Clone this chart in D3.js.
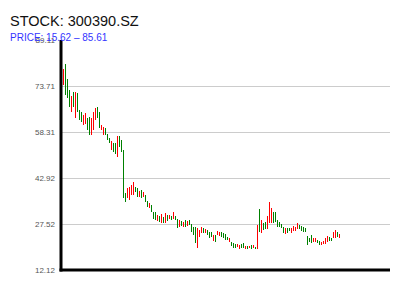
<!DOCTYPE html>
<html>
<head>
<meta charset="utf-8">
<script src="https://cdn.jsdelivr.net/npm/d3@7"></script>
<style>
  html, body { margin: 0; padding: 0; background: #fff; }
  svg { display: block; font-family: "Liberation Sans", Arial, sans-serif; }
</style>
</head>
<body>
<svg id="chart" width="400" height="300"></svg>
<script>
// daily open / close (red = up, green = down)
const opens = [
  74.06, 81.09, 76.07, 72.38, 65.02, 71.71, 63.01, 71.38, 65.69, 65.02,
  60.67, 61.00, 63.01, 63.34, 57.32, 58.99, 62.34, 66.69, 65.02, 58.99,
  57.32, 59.66, 57.65, 56.31, 52.30, 54.64, 54.64, 49.95, 56.98, 55.64,
  52.30, 37.90, 36.23, 35.56, 37.23, 37.23, 39.91, 39.57, 36.56, 38.90,
  36.56, 37.23, 35.22, 32.88, 33.88, 31.54, 31.54, 28.53, 30.20, 27.86,
  29.86, 27.86, 30.53, 29.19, 30.20, 29.19, 30.20, 29.19, 26.52, 28.53,
  26.52, 28.86, 26.85, 28.86, 27.52, 26.52, 26.52, 19.49, 23.17, 24.51,
  26.18, 24.51, 25.51, 24.84, 24.84, 21.83, 23.84, 23.84, 23.50, 24.84,
  24.51, 24.17, 23.17, 21.49, 21.49, 21.16, 20.82, 19.82, 19.15, 20.82,
  21.16, 19.15, 20.16, 19.49, 20.49, 19.49, 19.82, 19.15, 32.54, 24.51,
  27.86, 28.19, 25.85, 27.86, 27.86, 31.54, 31.54, 28.86, 28.19, 27.52,
  26.52, 24.17, 26.18, 26.18, 24.51, 25.18, 25.18, 25.85, 27.19, 26.85,
  26.52, 26.18, 23.50, 22.83, 23.84, 21.49, 21.49, 22.16, 21.83, 20.49,
  20.82, 20.82, 21.49, 23.17, 22.83, 22.83, 22.83, 24.84, 22.83
];
const closes = [
  79.41, 70.71, 69.71, 66.69, 70.38, 66.69, 71.71, 65.02, 62.34, 61.67,
  64.01, 64.68, 58.99, 57.32, 63.01, 65.02, 66.36, 63.01, 59.66, 60.67,
  60.00, 57.32, 55.64, 54.64, 55.31, 51.63, 50.96, 56.98, 53.30, 51.63,
  36.23, 34.89, 39.57, 39.91, 40.58, 41.58, 38.23, 36.56, 38.57, 36.23,
  38.23, 34.89, 33.21, 34.55, 31.54, 29.19, 28.86, 30.53, 28.19, 30.87,
  27.86, 31.20, 28.53, 30.53, 28.86, 31.54, 28.86, 26.18, 28.86, 26.85,
  28.19, 26.52, 28.53, 27.19, 24.84, 23.84, 21.16, 26.18, 25.51, 26.52,
  24.51, 25.85, 23.84, 22.83, 23.17, 23.84, 21.49, 25.18, 24.84, 23.17,
  22.83, 22.16, 22.16, 22.83, 20.16, 19.49, 19.49, 20.82, 20.49, 19.49,
  19.49, 20.16, 19.15, 20.16, 19.15, 20.49, 19.15, 27.19, 24.84, 28.86,
  25.51, 25.85, 30.20, 34.89, 32.88, 27.86, 28.19, 26.52, 26.52, 26.18,
  24.51, 26.18, 24.51, 25.18, 26.18, 26.85, 26.52, 27.86, 25.85, 25.18,
  24.84, 24.84, 20.49, 21.49, 21.16, 22.83, 22.83, 21.16, 20.49, 21.49,
  21.83, 22.83, 23.50, 21.83, 21.83, 24.84, 25.51, 23.17, 24.17
];
const yTicks = [12.12, 27.52, 42.92, 58.31, 73.71, 89.11];
const title = "STOCK: 300390.SZ";
const subtitle = "PRICE: 15.62 \u2013 85.61";

const plotLeft = 61, plotRight = 390, plotTop = 40, plotBottom = 270;

const svg = d3.select("#chart");

// 2px per trading day, 1px wide bars
const x = d3.scaleBand()
  .domain(d3.range(opens.length))
  .range([62.5, 62.5 + opens.length * 2])
  .paddingInner(0.5)
  .paddingOuter(0.25);

const y = d3.scaleLinear()
  .domain([yTicks[0], yTicks[yTicks.length - 1]])
  .range([plotBottom, plotTop]);

// grid lines
svg.append("g")
  .selectAll("line")
  .data(yTicks.slice(1, -1))
  .enter().append("line")
    .attr("x1", plotLeft)
    .attr("x2", plotRight)
    .attr("y1", d => Math.round(y(d)) + 0.5)
    .attr("y2", d => Math.round(y(d)) + 0.5)
    .style("stroke", "#cccccc")
    .style("stroke-width", 1);

// y axis labels
const yAxis = d3.axisLeft(y)
  .tickValues(yTicks)
  .tickSize(0)
  .tickPadding(5)
  .tickFormat(d3.format(".2f"));

const ag = svg.append("g")
  .attr("transform", `translate(${plotLeft - 1},0)`)
  .call(yAxis);
ag.select(".domain").remove();
ag.selectAll("text")
  .style("font-family", "'Liberation Sans', Arial, sans-serif")
  .style("font-size", "8px")
  .style("fill", "#555");

// candles
svg.append("g")
  .attr("shape-rendering", "crispEdges")
  .selectAll("rect")
  .data(opens.map((o, i) => ({ i: i, o: o, c: closes[i] })))
  .enter().append("rect")
    .attr("x", d => x(d.i))
    .attr("width", x.bandwidth())
    .attr("y", d => y(Math.max(d.o, d.c)))
    .attr("height", d => Math.max(1, Math.abs(y(d.o) - y(d.c))))
    .style("fill", d => d.c >= d.o ? "#ff0000" : "#008000");

// axis frame
svg.append("line")
  .attr("x1", plotLeft).attr("x2", plotLeft)
  .attr("y1", plotTop).attr("y2", plotBottom + 1.5)
  .style("stroke", "#000").style("stroke-width", 3);
svg.append("line")
  .attr("x1", plotLeft - 1.5).attr("x2", plotRight)
  .attr("y1", plotBottom).attr("y2", plotBottom)
  .style("stroke", "#000").style("stroke-width", 3);

// titles
svg.append("text")
  .attr("x", 10).attr("y", 26)
  .style("font-size", "14.5px")
  .style("fill", "#111")
  .text(title);

svg.append("text")
  .attr("x", 10).attr("y", 41)
  .style("font-size", "10px")
  .style("fill", "#3333ff")
  .text(subtitle);
</script>
</body>
</html>
